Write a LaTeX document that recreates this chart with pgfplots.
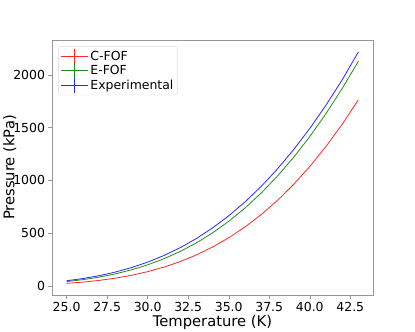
\documentclass[border=0pt]{standalone}
\usepackage{fontspec}
\setmainfont{DejaVu Sans}
\usepackage{pgfplots}
\pgfplotsset{compat=1.18}
\definecolor{cred}{RGB}{255,40,40}
\definecolor{cgreen}{RGB}{30,140,30}
\definecolor{cblue}{RGB}{40,40,255}
\definecolor{frame}{RGB}{150,150,150}

\begin{document}
\begin{tikzpicture}[x=1bp,y=1bp]
\useasboundingbox (0,0) rectangle (415,332);
\begin{axis}[
  at={(52bp,37bp)}, anchor=south west,
  scale only axis, width=321bp, height=255bp,
  xmin=24.1, xmax=43.9, ymin=-85, ymax=2330,
  xtick={25,27.5,...,42.5},
  ytick={0,500,...,2000},
  xticklabel style={/pgf/number format/.cd,fixed,fixed zerofill,precision=1},
  yticklabel style={/pgf/number format/.cd,fixed,1000 sep={}},
  /pgf/number format/assume math mode=true,
  tick label style={font=\fontsize{12.5}{14}\selectfont, black},
  label style={font=\fontsize{14.8}{16}\selectfont},
  xlabel={Temperature (K)}, ylabel={Pressure (kPa)},
  xlabel style={at={(axis description cs:0.5,-0.107)}, anchor=center},
  ylabel style={at={(axis description cs:-0.132,0.5)}, anchor=center},
  axis line style={frame}, tick style={frame, thin},
  tick align=outside, tick pos=left,
  major tick length=3.5bp,
  legend cell align=left,
  legend style={font=\fontsize{12.5}{14}\selectfont, draw=black!15, rounded corners=2pt,
    at={(0.02,0.975)}, anchor=north west, row sep=-1.5pt, inner sep=2pt},
  legend image code/.code={
    \draw[#1] (0bp,0bp) -- (27bp,0bp);
    \draw[#1] (13.5bp,-7.5bp) -- (13.5bp,7.5bp);
  },
  every axis plot/.append style={line width=0.8pt},
]
\addplot[cred] coordinates {
 (25,25) (26,37.0) (27,53.1) (28,74.3) (29,101.6) (30,136.1) (31,178.9)
 (32,231.2) (33,294) (34,369) (35,457) (36,559) (37,676) (38,810)
 (39,962) (40,1132) (41,1322) (42,1532) (43,1764)
};
\addlegendentry{C-FOF}
\addplot[cgreen] coordinates {
 (25,42) (26,60.2) (27,84.1) (28,114.7) (29,153.2) (30,200.5) (31,258.1)
 (32,326.9) (33,408) (34,503) (35,613) (36,738) (37,880) (38,1040)
 (39,1218) (40,1415) (41,1633) (42,1871) (43,2129)
};
\addlegendentry{E-FOF}
\addplot[cblue] coordinates {
 (25,50) (26,70.8) (27,97.8) (28,131.9) (29,174.4) (30,226.2) (31,288.5)
 (32,362.5) (33,449) (34,550) (35,665) (36,796) (37,943) (38,1108)
 (39,1291) (40,1492) (41,1713) (42,1953) (43,2217)
};
\addlegendentry{Experimental}
\end{axis}
\end{tikzpicture}
\end{document}
